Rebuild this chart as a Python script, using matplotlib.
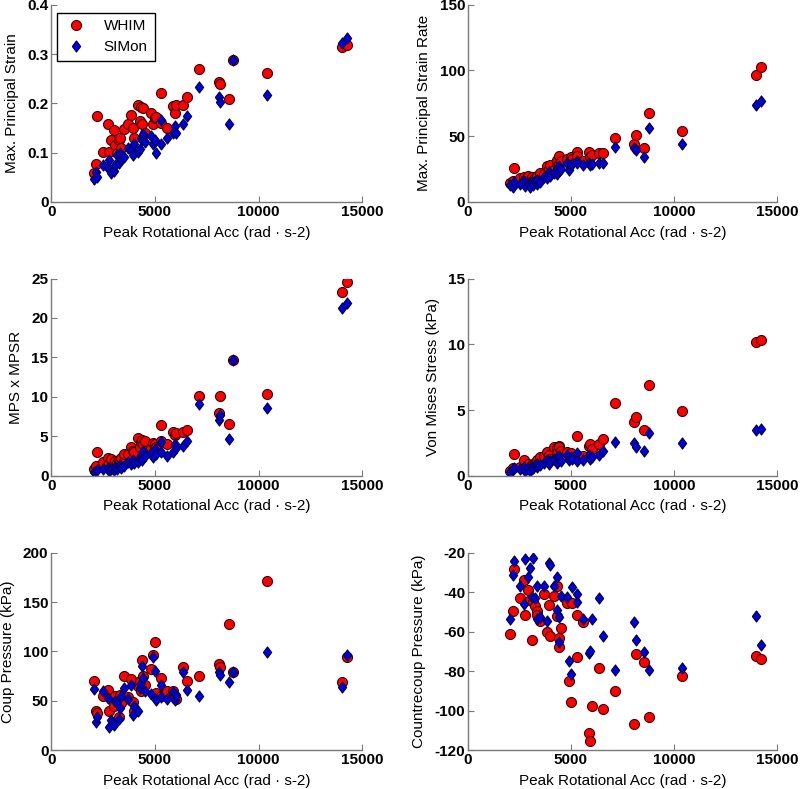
import numpy as np
import matplotlib
matplotlib.use('Agg')
import matplotlib.pyplot as plt

# peak rotational acceleration of each impact (rad/s^2), shared by all panels
acc = [2040, 2170, 2230, 2520, 2740, 2770, 2900, 3010, 3090, 3170, 3250,
       3340, 3370, 3500, 3710, 3850, 3950, 3980, 4180, 4300, 4340, 4400,
       4420, 4500, 4790, 4920, 4980, 5050, 5280, 5310, 5570, 5860, 5950,
       6000, 6340, 6540, 7120, 8080, 8140, 8550, 8780, 10390, 14010, 14250]

# max principal strain
mps_whim = [0.059, 0.078, 0.174, 0.102, 0.158, 0.102, 0.125, 0.146, 0.115, 0.10, 0.125,
            0.13, 0.11, 0.149, 0.159, 0.176, 0.15, 0.13, 0.197, 0.165, 0.193, 0.159,
            0.19, 0.14, 0.18, 0.158, 0.17, 0.173, 0.222, 0.16, 0.15, 0.195, 0.18,
            0.197, 0.197, 0.213, 0.269, 0.244, 0.239, 0.209, 0.288, 0.261, 0.315, 0.319]
mps_simon = [0.046, 0.061, 0.05, 0.075, 0.068, 0.085, 0.059, 0.062, 0.075, 0.095, 0.08,
             0.099, 0.088, 0.092, 0.11, 0.105, 0.095, 0.118, 0.102, 0.108, 0.13, 0.125,
             0.137, 0.122, 0.134, 0.118, 0.125, 0.10, 0.166, 0.117, 0.13, 0.14, 0.155,
             0.14, 0.158, 0.174, 0.233, 0.213, 0.203, 0.159, 0.288, 0.217, 0.323, 0.332]

# max principal strain rate
mpsr_whim = [14.7, 16, 25.6, 18, 19, 17, 20, 15, 19, 17, 18,
             16, 20, 22, 21, 27, 25, 28, 24, 30, 32, 35,
             29, 31, 33, 30, 34, 33, 38.3, 35, 31, 38.3, 34,
             35.8, 37, 37, 48.5, 44.2, 51, 40.9, 67.5, 54.3, 96.7, 103]
mpsr_simon = [13, 11.7, 15, 14, 16, 12, 14, 11.7, 15, 13, 16,
              14, 17, 15, 19, 18, 23, 20, 22, 21.3, 26, 23.6,
              27, 25, 30, 24.4, 28, 29, 31.5, 29.5, 28, 29.5, 28.2,
              29, 29.5, 29.5, 42.1, 40.9, 39.6, 34, 56.6, 44.2, 73.9, 77.1]

# MPS x MPSR
prod_whim = [0.8, 1.2, 3.0, 1.8, 2.2, 1.6, 2.1, 1.5, 1.9, 1.6, 2.0,
             1.8, 2.2, 2.8, 2.7, 3.7, 3.2, 3.0, 4.75, 3.6, 4.3, 4.5,
             4.0, 4.4, 3.5, 4.2, 4.0, 3.6, 6.45, 4.4, 4.0, 5.6, 5.2,
             5.4, 5.5, 5.8, 10.1, 8.0, 10.1, 6.5, 14.7, 10.4, 23.3, 24.6]
prod_simon = [0.5, 0.6, 0.7, 0.9, 1.0, 0.6, 0.8, 0.7, 1.1, 0.9, 1.2,
              1.4, 1.0, 1.3, 1.8, 1.5, 2.0, 1.6, 1.8, 2.3, 2.6, 2.0,
              3.1, 2.5, 2.9, 2.4, 3.4, 2.8, 4.25, 3.0, 2.5, 3.0, 4.0,
              3.5, 3.8, 4.4, 9.1, 7.1, 7.7, 4.7, 14.7, 8.6, 21.3, 21.9]

# von Mises stress (kPa)
vms_whim = [0.4, 0.6, 1.67, 0.7, 1.2, 0.6, 0.9, 0.5, 0.8, 0.9, 1.0,
            0.8, 1.2, 1.4, 1.5, 1.8, 1.6, 1.3, 2.2, 2.1, 1.7, 2.3,
            2.2, 1.9, 1.8, 1.5, 1.7, 1.4, 3.06, 1.6, 1.5, 2.3, 2.4,
            2.0, 2.4, 2.8, 5.5, 4.07, 4.5, 3.5, 6.9, 4.96, 10.15, 10.35]
vms_simon = [0.3, 0.5, 0.6, 0.5, 0.7, 0.4, 0.6, 0.4, 0.7, 0.6, 0.8,
             0.7, 0.9, 0.8, 1.0, 1.2, 0.9, 1.1, 1.3, 1.0, 1.4, 1.2,
             1.5, 1.1, 1.6, 1.2, 1.4, 1.3, 1.75, 1.1, 1.2, 1.6, 1.3,
             1.4, 1.55, 1.92, 2.55, 2.48, 2.2, 1.85, 3.24, 2.48, 3.5, 3.57]

# coup pressure (kPa)
coup_whim = [70.2, 39.7, 38, 55, 61, 39.7, 52, 45, 55, 50, 33.9,
             56, 48, 75.5, 54.2, 72.2, 48.5, 40, 65, 69.5, 60, 90.8,
             75, 66, 82.4, 96.6, 109.5, 57.6, 72.9, 55, 60, 60, 55,
             52, 83.7, 69.5, 75.5, 87.1, 84, 127.8, 79, 171, 68.8, 93.9]
coup_simon = [62, 28.2, 33, 60, 52.5, 23.7, 30, 25.4, 50, 48, 31.5,
              42.4, 55, 62.7, 51.9, 66.1, 35.6, 45, 39.7, 62.7, 68, 84.7,
              72.9, 60, 56.6, 93.9, 80, 50.8, 66.1, 54.2, 52, 59.3, 50.8,
              56, 79, 61, 55.2, 79.6, 76, 68.8, 79, 99.3, 63.4, 96.6]

# countercoup pressure (kPa)
ccoup_whim = [-61.3, -49.4, -28.1, -42.7, -33.7, -51.5, -38.8, -43.9, -64.2, -45, -47,
              -49.4, -51.5, -54.5, -41, -60.3, -46.4, -62, -41.7, -36.6, -52.3, -67.7,
              -63.3, -57.9, -45.5, -85, -95.5, -45.5, -51.8, -72.8, -55, -111.2, -115.6,
              -97.8, -78.5, -99.2, -89.9, -106.8, -71.1, -75.2, -103.1, -82.6, -72.1, -73.8]
ccoup_simon = [-53.5, -31.2, -24.4, -36.6, -46, -23, -32.5, -27.8, -42.2, -22.7, -43,
               -36.6, -53.5, -52.8, -36.6, -54.5, -25.2, -26.4, -36.6, -32.3, -48.9, -52.8,
               -65, -41.7, -42.2, -74.7, -81.3, -37.3, -41, -45, -53.5, -70.9, -70,
               -53.5, -43, -62, -79.6, -55.2, -64.2, -70.1, -79.6, -78.5, -52.3, -66.7]

plt.rcParams['font.family'] = ['Liberation Sans', 'DejaVu Sans']

fig = plt.figure(figsize=(8, 7.89), dpi=100)

diamond = [(-0.75, 0), (0, 1), (0.75, 0), (0, -1), (-0.75, 0)]
gray = '#7a7a7a'

panels = [
    ([0.064, 0.744, 0.389, 0.25], mps_whim, mps_simon, 'Max. Principal Strain',
     (0, 0.4), [0, 0.1, 0.2, 0.3, 0.4], ['0', '0.1', '0.2', '0.3', '0.4']),
    ([0.585, 0.744, 0.386, 0.25], mpsr_whim, mpsr_simon, 'Max. Principal Strain Rate',
     (0, 150), [0, 50, 100, 150], ['0', '50', '100', '150']),
    ([0.064, 0.397, 0.389, 0.25], prod_whim, prod_simon, 'MPS x MPSR',
     (0, 25), [0, 5, 10, 15, 20, 25], ['0', '5', '10', '15', '20', '25']),
    ([0.585, 0.397, 0.386, 0.25], vms_whim, vms_simon, 'Von Mises Stress (kPa)',
     (0, 15), [0, 5, 10, 15], ['0', '5', '10', '15']),
    ([0.064, 0.0494, 0.389, 0.25], coup_whim, coup_simon, 'Coup Pressure (kPa)',
     (0, 200), [0, 50, 100, 150, 200], ['0', '50', '100', '150', '200']),
    ([0.585, 0.0494, 0.386, 0.25], ccoup_whim, ccoup_simon, 'Countrecoup Pressure (kPa)',
     (-120, -20), [-120, -100, -80, -60, -40, -20],
     ['-120', '-100', '-80', '-60', '-40', '-20']),
]

for i, (pos, yw, ys, ylab, ylim, yt, ytl) in enumerate(panels):
    ax = fig.add_axes(pos)
    ax.plot(acc, yw, linestyle='none', marker='o', ms=7.2, mfc='#ff0000',
            mec='#3a0000', mew=0.8, label='WHIM')
    ax.plot(acc, ys, linestyle='none', marker=diamond, ms=8, mfc='#0000dd',
            mec='#00004a', mew=0.8, label='SIMon')
    ax.set_xlim(0, 15000)
    ax.set_ylim(*ylim)
    ax.set_xticks([0, 5000, 10000, 15000])
    ax.set_xticklabels(['0', '5000', '10000', '15000'], fontweight='bold')
    ax.set_yticks(yt)
    ax.set_yticklabels(ytl, fontweight='bold')
    ax.tick_params(direction='in', length=4, color=gray, labelsize=11,
                   labelcolor='black', pad=2)
    for s in ['top', 'right']:
        ax.spines[s].set_visible(False)
    for s in ['left', 'bottom']:
        ax.spines[s].set_color(gray)
        ax.spines[s].set_linewidth(1.0)
    ax.set_xlabel('Peak Rotational Acc (rad \u00b7 s-2)', fontsize=11, labelpad=5)
    ax.set_ylabel(ylab, fontsize=11, labelpad=6)
    if i == 0:
        leg = ax.legend(loc='upper left', bbox_to_anchor=(0.019, 0.96), fontsize=11,
                        fancybox=False, framealpha=1, borderaxespad=0,
                        handletextpad=1.0, borderpad=0.45, labelspacing=0.45,
                        handlelength=1.6)
        leg.get_frame().set_edgecolor('black')
        leg.get_frame().set_linewidth(1.0)

fig.savefig('out.png', dpi=100)
